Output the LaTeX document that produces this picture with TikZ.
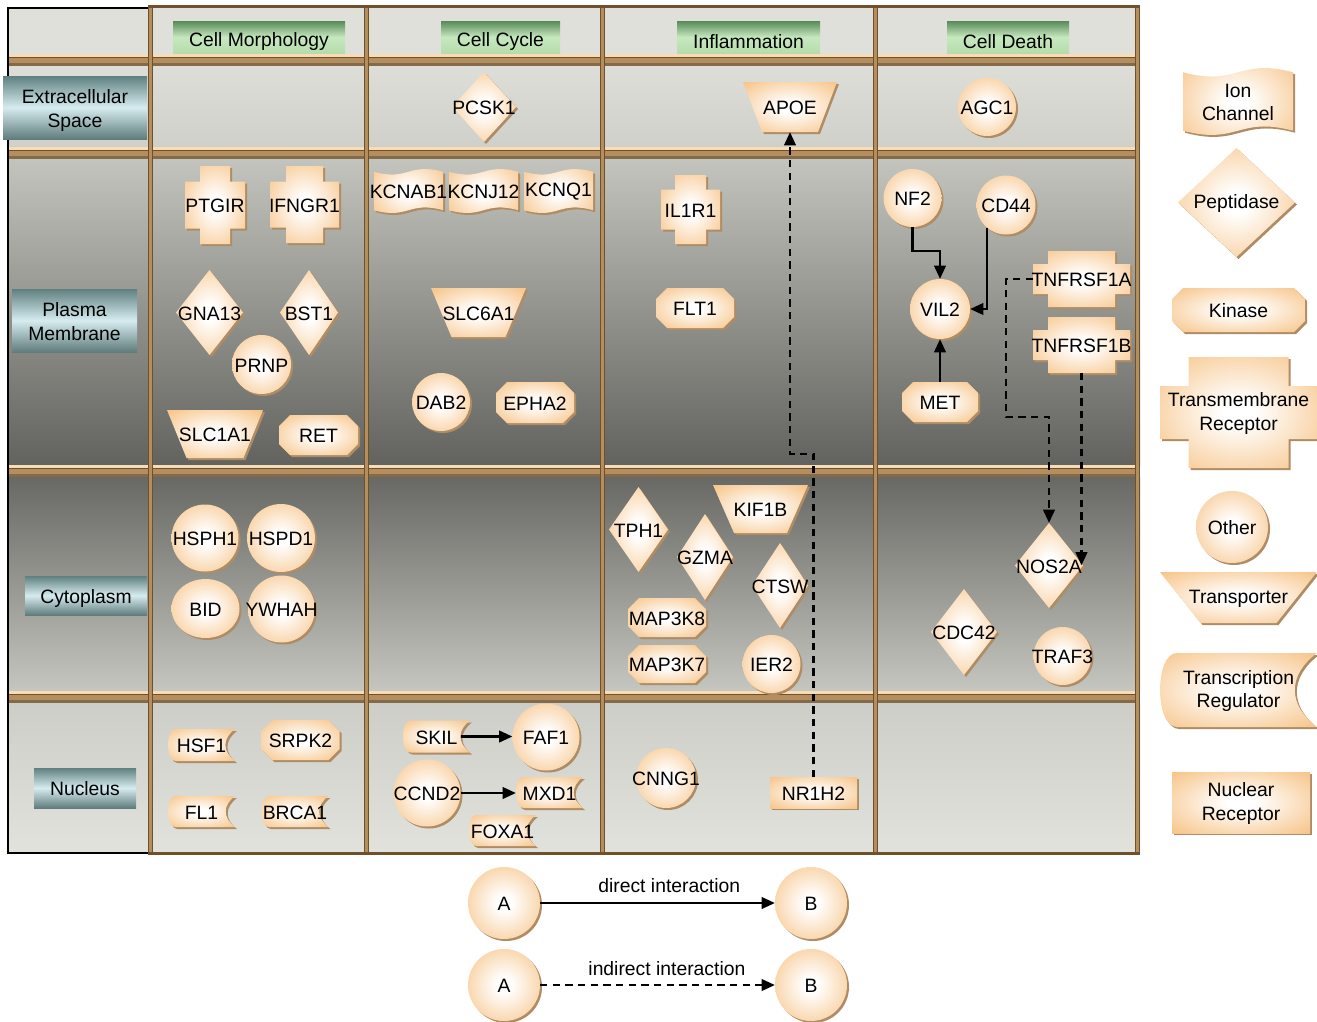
\documentclass[tikz,border=0pt]{standalone}
\usepackage{fontspec}
\setmainfont{Liberation Sans}
\usetikzlibrary{arrows.meta}
\definecolor{peach}{RGB}{247,198,140}
\definecolor{nshadowc}{RGB}{175,140,100}
\definecolor{barpeach}{RGB}{248,220,182}
\definecolor{bardark}{RGB}{112,80,42}
\definecolor{bartan}{RGB}{180,142,94}
\definecolor{hdrbg}{RGB}{224,224,219}
\definecolor{exA}{RGB}{222,222,217}
\definecolor{exB}{RGB}{208,208,202}
\definecolor{pmA}{RGB}{196,196,190}
\definecolor{pmB}{RGB}{98,98,94}
\definecolor{cyA}{RGB}{104,104,100}
\definecolor{cyB}{RGB}{198,198,192}
\definecolor{nuA}{RGB}{206,206,200}
\definecolor{nuB}{RGB}{226,226,221}
\definecolor{grA}{RGB}{88,138,88}
\definecolor{grB}{RGB}{198,232,190}
\definecolor{grC}{RGB}{182,220,172}
\definecolor{tlA}{RGB}{96,128,128}
\definecolor{tlB}{RGB}{214,236,240}
\definecolor{tlC}{RGB}{96,124,124}
\pgfdeclareradialshading{nodeshade}{\pgfpoint{0bp}{0bp}}{color(0bp)=(white); color(5bp)=(white); color(34bp)=(peach); color(50bp)=(peach)}
\tikzset{
  nshape/.style={shading=nodeshade, preaction={fill=nshadowc, transform canvas={shift={(2,2)}}}},
  nbox/.style={inner sep=0pt, outer sep=0pt},
  ntext/.style={font=\fontsize{14.5}{17.5}\selectfont, align=center, inner sep=0pt, text=black},
  nlabel/.style={ntext, yshift=-0.8pt},
  hdrbox/.style={inner sep=0pt, top color=grA, bottom color=grC, middle color=grB},
  rowbox/.style={inner sep=0pt, top color=tlA, bottom color=tlC, middle color=tlB},
  direct/.style={line width=2.1pt, -{Triangle[length=10pt,width=8.5pt]}},
  indirect/.style={direct, dash pattern=on 5.5pt off 4pt},
}
% name, x, y, r, text
\newcommand{\ndCircle}[5]{%
  \shade[nshape] (#2,#3) circle[radius=#4];
  \node[nbox, circle, minimum size={2*#4*0.75pt}, label={[nlabel]center:#5}] (#1) at (#2,#3) {};
}
% name, x, y, rx, ry, text
\newcommand{\ndEllipse}[6]{%
  \shade[nshape] (#2,#3) ellipse[x radius=#4, y radius=#5];
  \node[nbox, minimum width={2*#4*0.75pt}, minimum height={2*#5*0.75pt}, label={[nlabel]center:#6}] (#1) at (#2,#3) {};
}
% name, x, y, w, h, text
\newcommand{\ndDiamond}[6]{%
  \shade[nshape] ({#2-#4/2},#3) -- (#2,{#3-#5/2}) -- ({#2+#4/2},#3) -- (#2,{#3+#5/2}) -- cycle;
  \node[nbox, minimum width={#4*0.75pt}, minimum height={#5*0.75pt}, label={[nlabel]center:#6}] (#1) at (#2,#3) {};
}
% name, x, y, wtop, wbottom, h, text
\newcommand{\ndTrans}[7]{%
  \shade[nshape] ({#2-#4/2},{#3-#6/2}) -- ({#2+#4/2},{#3-#6/2}) -- ({#2+#5/2},{#3+#6/2}) -- ({#2-#5/2},{#3+#6/2}) -- cycle;
  \node[nbox, minimum width={#4*0.75pt}, minimum height={#6*0.75pt}, label={[nlabel]center:#7}] (#1) at (#2,#3) {};
}
% name, x, y, w, h, text
\newcommand{\ndKinase}[6]{%
  \shade[nshape] ({#2-#4/2+11},{#3-#5/2}) -- ({#2+#4/2-11},{#3-#5/2}) -- ({#2+#4/2},{#3-#5/2+11}) -- ({#2+#4/2},{#3+#5/2-11}) -- ({#2+#4/2-11},{#3+#5/2}) -- ({#2-#4/2+11},{#3+#5/2}) -- ({#2-#4/2},{#3+#5/2-11}) -- ({#2-#4/2},{#3-#5/2+11}) -- cycle;
  \node[nbox, minimum width={#4*0.75pt}, minimum height={#5*0.75pt}, label={[nlabel]center:#6}] (#1) at (#2,#3) {};
}
% name, x, y, w, h, vertical arm width, horizontal arm height, text
\newcommand{\ndCross}[8]{%
  \shade[nshape] ({#2-#6/2},{#3-#5/2}) -- ({#2+#6/2},{#3-#5/2}) -- ({#2+#6/2},{#3-#7/2}) -- ({#2+#4/2},{#3-#7/2}) -- ({#2+#4/2},{#3+#7/2}) -- ({#2+#6/2},{#3+#7/2}) -- ({#2+#6/2},{#3+#5/2}) -- ({#2-#6/2},{#3+#5/2}) -- ({#2-#6/2},{#3+#7/2}) -- ({#2-#4/2},{#3+#7/2}) -- ({#2-#4/2},{#3-#7/2}) -- ({#2-#6/2},{#3-#7/2}) -- cycle;
  \node[nbox, minimum width={#4*0.75pt}, minimum height={#5*0.75pt}, label={[nlabel]center:#8}] (#1) at (#2,#3) {};
}
% name, x, y, w, h, text
\newcommand{\ndIon}[6]{%
  \shade[nshape] ({#2-#4/2},{#3-#5/2+0.1*#5}) .. controls (#2,{#3-#5/2+0.3*#5}) and (#2,{#3-#5/2-0.1*#5}) .. ({#2+#4/2},{#3-#5/2+0.1*#5}) -- ({#2+#4/2},{#3+#5/2-0.1*#5}) .. controls (#2,{#3+#5/2-0.3*#5}) and (#2,{#3+#5/2+0.1*#5}) .. ({#2-#4/2},{#3+#5/2-0.1*#5}) -- cycle;
  \node[nbox, minimum width={#4*0.75pt}, minimum height={#5*0.75pt}, label={[nlabel]center:#6}] (#1) at (#2,#3) {};
}
% name, x, y, w, h, text
\newcommand{\ndTR}[6]{%
  \shade[nshape] ({#2-#4/2+0.23*#5},{#3-#5/2}) -- ({#2+#4/2},{#3-#5/2}) .. controls ({#2+#4/2-0.4*#5},{#3-0.2*#5}) and ({#2+#4/2-0.4*#5},{#3+0.2*#5}) .. ({#2+#4/2},{#3+#5/2}) -- ({#2-#4/2+0.23*#5},{#3+#5/2}) .. controls ({#2-#4/2-0.076*#5},{#3+#5/2}) and ({#2-#4/2-0.076*#5},{#3-#5/2}) .. ({#2-#4/2+0.23*#5},{#3-#5/2}) -- cycle;
  \node[nbox, minimum width={#4*0.75pt}, minimum height={#5*0.75pt}, label={[nlabel]center:#6}] (#1) at (#2,#3) {};
}
% name, x, y, w, h, text
\newcommand{\ndNR}[6]{%
  \shade[nshape] ({#2-#4/2},{#3-#5/2}) rectangle ({#2+#4/2},{#3+#5/2});
  \node[nbox, minimum width={#4*0.75pt}, minimum height={#5*0.75pt}, label={[nlabel]center:#6}] (#1) at (#2,#3) {};
}
\newcommand{\rowbar}[1]{%
  \fill[barpeach] (8,#1) rectangle (1140,{#1+3});
  \fill[bartan] (8,{#1+3}) rectangle (1140,{#1+12});
  \fill[bardark] (8,{#1+3}) rectangle (1140,{#1+4.3});
  \fill[bardark!85] (8,{#1+9}) rectangle (1140,{#1+12});
}
\newcommand{\colbar}[1]{%
  \fill[bartan] (#1,5) rectangle ({#1+5},855);
  \fill[bardark] (#1,5) rectangle ({#1+1.3},855);
  \fill[bardark] ({#1+3.7},5) rectangle ({#1+5},855);
}
\begin{document}
\begin{tikzpicture}[x=0.75pt,y=-0.75pt]
\useasboundingbox (0,0) rectangle (1317,1021);
\fill[white] (0,0) rectangle (1317,1021);
% rows
\fill[hdrbg] (8,8) rectangle (1140,54);
\shade[top color=exA, bottom color=exB] (8,66) rectangle (1140,147);
\shade[top color=pmA, bottom color=pmB] (8,159) rectangle (1140,465);
\shade[top color=cyA, bottom color=cyB] (8,477) rectangle (1140,691);
\shade[top color=nuA, bottom color=nuB] (8,703) rectangle (1140,852);
\rowbar{54}
\rowbar{147}
\rowbar{465}
\rowbar{691}
\colbar{148}
\colbar{364}
\colbar{600}
\colbar{873}
\colbar{1135}
\fill[bardark] (148,5) rectangle (1140,8);
\fill[bardark] (148,852) rectangle (1140,855);
\draw[black, line width=1pt] (148,8) -- (8,8) -- (8,853) -- (148,853);
% column headers
\node[hdrbox, minimum width={172*0.75pt}, minimum height={32*0.75pt}, label={[ntext, yshift=-3.5pt]center:Cell Morphology}] (hmorph) at (259,37) {};
\node[hdrbox, minimum width={119*0.75pt}, minimum height={32*0.75pt}, label={[ntext, yshift=-3.5pt]center:Cell Cycle}] (hcycle) at (500.5,37) {};
\node[hdrbox, minimum width={143*0.75pt}, minimum height={32*0.75pt}, label={[ntext, yshift=-3.5pt]center:Inflammation}] (hinfl) at (748.5,37) {};
\node[hdrbox, minimum width={122*0.75pt}, minimum height={32*0.75pt}, label={[ntext, yshift=-3.5pt]center:Cell Death}] (hdeath) at (1008,37) {};
% row labels
\node[rowbox, minimum width={144*0.75pt}, minimum height={63*0.75pt}, label={[ntext, yshift=-2.2pt]center:Extracellular\\Space}] (rext) at (75,107.5) {};
\node[rowbox, minimum width={125*0.75pt}, minimum height={63*0.75pt}, label={[ntext, yshift=-0.8pt]center:Plasma\\Membrane}] (rpm) at (74.5,320.5) {};
\node[rowbox, minimum width={122*0.75pt}, minimum height={39*0.75pt}, label={[ntext, yshift=-2.2pt]center:Cytoplasm}] (rcyto) at (86,595.5) {};
\node[rowbox, minimum width={102*0.75pt}, minimum height={40*0.75pt}, label={[ntext, yshift=-0.8pt]center:Nucleus}] (rnuc) at (85,788) {};
% extracellular
\ndDiamond{pcsk1}{484}{107}{64}{70}{PCSK1}
\ndTrans{apoe}{790}{107}{94}{56}{50}{APOE}
\ndCircle{agc1}{987}{107}{29}{AGC1}
% plasma membrane
\ndCross{ptgir}{215}{205}{60}{78}{30}{47}{PTGIR}
\ndCross{ifngr1}{304.5}{204.5}{69}{77}{37}{46}{IFNGR1}
\ndDiamond{gna13}{209.5}{312.5}{67}{85}{GNA13}
\ndDiamond{bst1}{309}{312.5}{58}{85}{BST1}
\ndCircle{prnp}{261.5}{364.5}{29.5}{PRNP}
\ndTrans{slc1a1}{215}{434}{96}{57}{48}{SLC1A1}
\ndKinase{ret}{318.5}{435}{79}{40}{RET}
\ndIon{kcnab1}{408.5}{191}{69}{48}{KCNAB1}
\ndIon{kcnj12}{483.5}{191}{69}{48}{KCNJ12}
\ndIon{kcnq1}{558.5}{191}{69}{48}{KCNQ1}
\ndTrans{slc6a1}{478.5}{312.5}{95}{54}{49}{SLC6A1}
\ndCircle{dab2}{441}{402}{29}{DAB2}
\ndKinase{epha2}{535}{402.5}{78}{41}{EPHA2}
\ndCross{il1r1}{690.5}{209.5}{59}{69}{31}{40}{IL1R1}
\ndKinase{flt1}{695}{308}{78}{40}{FLT1}
\ndCircle{nf2}{912.5}{198}{29}{NF2}
\ndCircle{cd44}{1006}{205}{29.5}{CD44}
\ndCircle{vil2}{940}{309}{30}{VIL2}
\ndKinase{met}{940}{402}{76}{40}{MET}
\ndCross{tnfa}{1081.5}{279}{97}{56}{67}{30}{TNFRSF1A}
\ndCross{tnfb}{1081.5}{345}{97}{56}{67}{30}{TNFRSF1B}
% cytoplasm
\ndCircle{hsph1}{205}{538}{33.5}{HSPH1}
\ndCircle{hspd1}{281}{538}{34}{HSPD1}
\ndEllipse{bid}{205.5}{608.5}{34}{29.5}{BID}
\ndCircle{ywhah}{281.5}{609}{33.5}{YWHAH}
\ndDiamond{tph1}{638.5}{529.5}{59}{85}{TPH1}
\ndDiamond{gzma}{705}{557}{56}{86}{GZMA}
\ndTrans{kif1b}{760.5}{509}{95}{53}{48}{KIF1B}
\ndDiamond{ctsw}{780}{585.5}{56}{85}{CTSW}
\ndKinase{mapk8}{667}{617.5}{78}{39}{MAP3K8}
\ndKinase{mapk7}{667}{664}{78}{38}{MAP3K7}
\ndCircle{ier2}{771.5}{664}{29}{IER2}
\ndDiamond{nos2a}{1049}{565.5}{68}{85}{NOS2A}
\ndDiamond{cdc42}{964}{632}{66}{86}{CDC42}
\ndCircle{traf3}{1062.5}{656}{29}{TRAF3}
% nucleus
\ndTR{hsf1}{201.5}{745}{67}{32}{HSF1}
\ndKinase{srpk2}{300.5}{740}{78}{40}{SRPK2}
\ndTR{fl1}{201.5}{811.5}{67}{31}{FL1}
\ndTR{brca1}{295}{811.5}{67}{31}{BRCA1}
\ndTR{skil}{436.5}{736.5}{67}{32}{SKIL}
\ndCircle{faf1}{546}{737}{33.5}{FAF1}
\ndCircle{ccnd2}{427}{793}{33.5}{CCND2}
\ndTR{mxd1}{549.5}{792.5}{67}{31}{MXD1}
\ndTR{foxa1}{502.5}{830.5}{67}{31}{FOXA1}
\ndCircle{cnng1}{666}{778}{30}{CNNG1}
\ndNR{nr1h2}{813.5}{792.5}{87}{31}{NR1H2}
% legend (right)
\ndIon{lgion}{1238}{101.5}{110}{73}{Ion\\Channel}
\ndDiamond{lgpep}{1236.5}{202.5}{117}{109}{Peptidase}
\ndKinase{lgkin}{1238.5}{310}{133}{44}{Kinase}
\ndCross{lgtm}{1238.5}{412.5}{157}{111}{100}{53}{Transmembrane\\Receptor}
\ndCircle{lgoth}{1232}{527}{36}{Other}
\ndTrans{lgtrp}{1238.5}{597.5}{157}{76}{51}{Transporter}
\ndTR{lgtr}{1238.5}{690}{157}{74}{Transcription\\Regulator}
\ndNR{lgnr}{1241}{802.5}{138}{61}{Nuclear\\Receptor}
% legend (bottom)
\ndCircle{la1}{504}{903}{36}{A}
\ndCircle{lb1}{811}{903}{36}{B}
\ndCircle{la2}{504}{985}{36}{A}
\ndCircle{lb2}{811}{985}{36}{B}
% connectors
\draw[direct] (nf2.south) -- ++(0,24) -| (vil2.north);
\draw[direct] (cd44.230) |- (vil2.east);
\draw[direct] (met.north) -- (vil2.south);
\draw[indirect] (tnfa.west) -| ++(-27,138) -| (nos2a.north);
\draw[indirect] (tnfb.south) -- (tnfb.south |- nos2a.east);
\draw[indirect] (nr1h2.north) -- ++(0,-323) -| (apoe.south);
\draw[direct] ([xshift=-7pt]skil.east) -- (skil.east -| faf1.west);
\draw[direct] (ccnd2.east) -- (ccnd2.east -| mxd1.west);
\draw[direct] (la1) -- (lb1) node[ntext, pos=0.55, above=6.5pt] {direct interaction};
\draw[indirect] (la2) -- (lb2) node[ntext, pos=0.54, above=6pt] {indirect interaction};
\end{tikzpicture}
\end{document}
